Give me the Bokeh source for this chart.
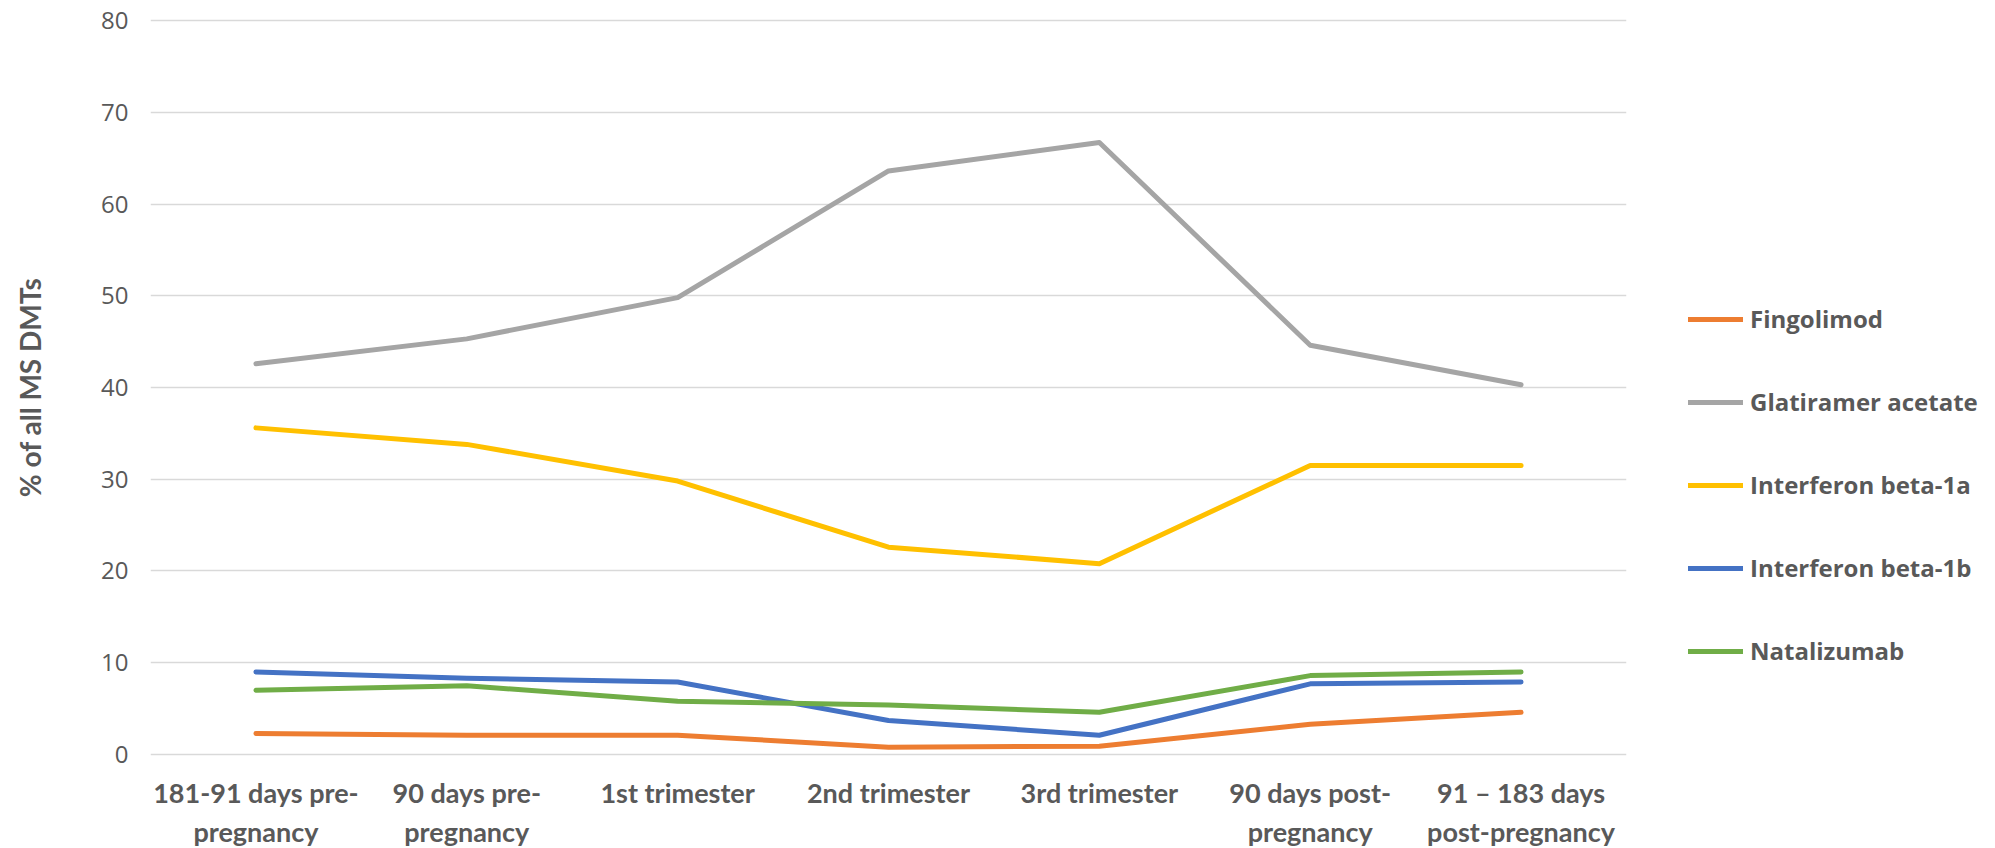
from bokeh.plotting import figure
from bokeh.models import Range1d, FixedTicker, Legend, LegendItem
from bokeh.embed import file_html
from bokeh.resources import INLINE

categories = ["181-91 days pre-\npregnancy", "90 days pre-\npregnancy", "1st trimester",
              "2nd trimester", "3rd trimester", "90 days post-\npregnancy",
              "91 \u2013 183 days\npost-pregnancy"]
fingolimod = [2.3, 2.1, 2.1, 0.8, 0.9, 3.3, 4.6]
glatiramer = [42.6, 45.3, 49.8, 63.6, 66.7, 44.6, 40.3]
ifn_1a = [35.6, 33.8, 29.8, 22.6, 20.8, 31.5, 31.5]
ifn_1b = [9.0, 8.3, 7.9, 3.7, 2.1, 7.7, 7.9]
natalizumab = [7.0, 7.5, 5.8, 5.4, 4.6, 8.6, 9.0]
y_ticks = [0, 10, 20, 30, 40, 50, 60, 70, 80]

series = [
    ("Fingolimod", fingolimod, "#ED7D31"),
    ("Glatiramer acetate", glatiramer, "#A5A5A5"),
    ("Interferon beta-1a", ifn_1a, "#FFC000"),
    ("Interferon beta-1b", ifn_1b, "#4472C4"),
    ("Natalizumab", natalizumab, "#70AD47"),
]

xs = list(range(len(categories)))

p = figure(frame_width=1476, frame_height=744, output_backend="svg", toolbar_location=None,
           x_range=Range1d(-0.5, len(categories) - 0.5),
           y_range=Range1d(-0.545, 80.545),
           min_border_left=150, min_border_top=15, min_border_bottom=86,
           min_border_right=0)
p.outline_line_color = None
p.background_fill_color = "white"
p.border_fill_color = "white"

items = []
for name, vals, col in series:
    r = p.line(xs, vals, line_color=col, line_width=5, line_join="round", line_cap="round")
    items.append(LegendItem(label=name, renderers=[r]))

p.xgrid.grid_line_color = None
p.ygrid.grid_line_color = "#D9D9D9"
p.ygrid.grid_line_width = 1.5
p.yaxis.ticker = FixedTicker(ticks=y_ticks)
p.xaxis.ticker = FixedTicker(ticks=xs)
p.xaxis.major_label_overrides = {i: c for i, c in zip(xs, categories)}

for ax in (p.xaxis[0], p.yaxis[0]):
    ax.axis_line_color = None
    ax.major_tick_line_color = None
    ax.minor_tick_line_color = None

p.yaxis.major_label_text_font = "Open Sans"
p.yaxis.major_label_text_font_size = "24px"
p.yaxis.major_label_text_color = "#595959"
p.yaxis.major_label_standoff = 16
p.yaxis.axis_label = "% of all MS DMTs"
p.yaxis.axis_label_text_font = "Lato"
p.yaxis.axis_label_text_font_style = "bold"
p.yaxis.axis_label_text_font_size = "28px"
p.yaxis.axis_label_text_color = "#595959"
p.yaxis.axis_label_standoff = 51

p.xaxis.major_label_text_font = "Lato"
p.xaxis.major_label_text_font_style = "bold"
p.xaxis.major_label_text_font_size = "27px"
p.xaxis.major_label_text_color = "#595959"
p.xaxis.major_label_standoff = 10

legend = Legend(items=items, location=(62, 92), orientation="vertical",
                label_text_font="Open Sans", label_text_font_style="bold",
                label_text_font_size="24px", label_text_color="#595959",
                glyph_width=55, glyph_height=30, label_height=30,
                spacing=50, padding=0, margin=0, label_standoff=7,
                border_line_color=None, background_fill_alpha=0)
p.add_layout(legend, "right")

open("out.html", "w").write(file_html(p, INLINE))
